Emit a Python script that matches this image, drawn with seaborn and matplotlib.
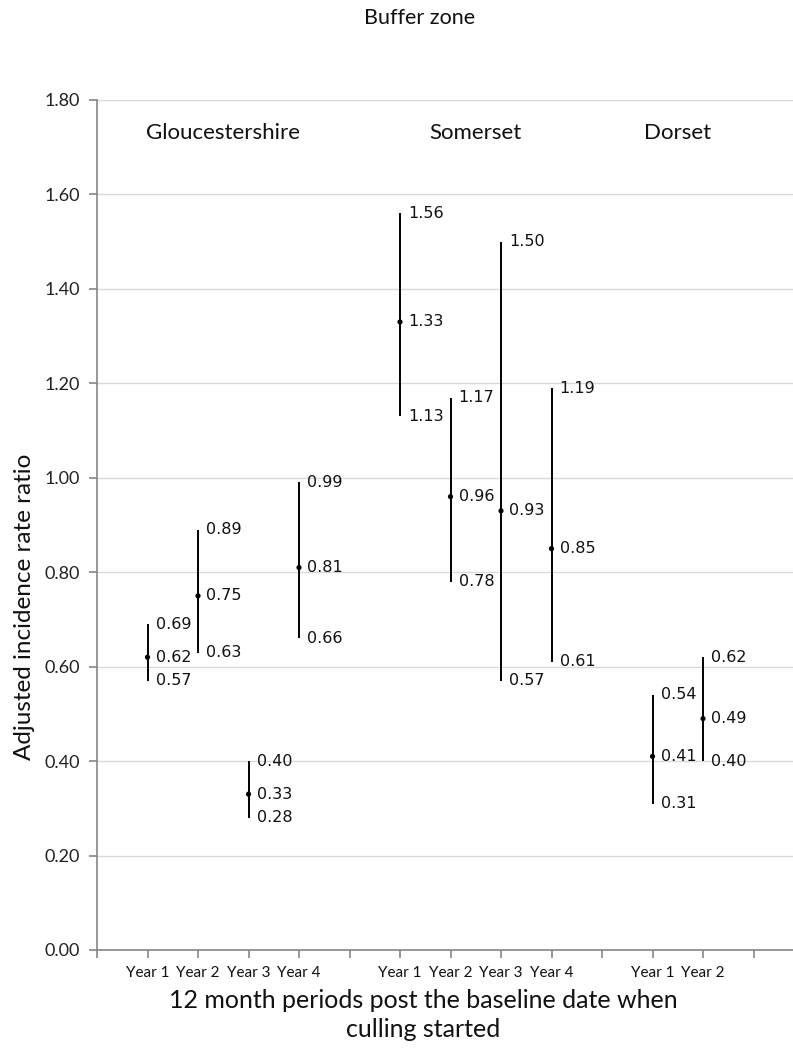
import pandas as pd
import matplotlib.pyplot as plt
import seaborn as sns

# ---------------------------
# Data
# ---------------------------
regions = ["Gloucestershire", "Somerset", "Dorset"]
glos_years = ["Year 1", "Year 2", "Year 3", "Year 4"]
som_years = ["Year 1", "Year 2", "Year 3", "Year 4"]
dor_years = ["Year 1", "Year 2"]

glos_irr = [0.62, 0.75, 0.33, 0.81]
glos_low = [0.57, 0.63, 0.28, 0.66]
glos_high = [0.69, 0.89, 0.40, 0.99]

som_irr = [1.33, 0.96, 0.93, 0.85]
som_low = [1.13, 0.78, 0.57, 0.61]
som_high = [1.56, 1.17, 1.50, 1.19]

dor_irr = [0.41, 0.49]
dor_low = [0.31, 0.40]
dor_high = [0.54, 0.62]

y_ticks = [0.0, 0.2, 0.4, 0.6, 0.8, 1.0, 1.2, 1.4, 1.6, 1.8]

# build one table, with an empty slot between regions
rows = []
start = 1
for reg, yrs, est, lo, hi in zip(regions,
                                 [glos_years, som_years, dor_years],
                                 [glos_irr, som_irr, dor_irr],
                                 [glos_low, som_low, dor_low],
                                 [glos_high, som_high, dor_high]):
    for i, yr in enumerate(yrs):
        rows.append({"region": reg, "year": yr, "pos": start + i,
                     "irr": est[i], "low": lo[i], "high": hi[i]})
    start += len(yrs) + 1
df = pd.DataFrame(rows)

# ---------------------------
# Plot
# ---------------------------
sns.set_style("white")
fig = plt.figure(figsize=(7.93, 10.49), dpi=100)
ax = fig.add_axes([97 / 793, 1 - 950 / 1049, 707 / 793, 850 / 1049])

ax.vlines(df["pos"], df["low"], df["high"], color="black", lw=1.4, zorder=3)
sns.scatterplot(data=df, x="pos", y="irr", color="black", s=14,
                edgecolor="none", zorder=4, ax=ax)

lab_kw = dict(fontsize=11.5, family="DejaVu Sans", va="center", ha="left",
              color="#111111")
for _, r in df.iterrows():
    ax.text(r["pos"] + 0.16, r["high"], f"{r['high']:.2f}", **lab_kw)
    ax.text(r["pos"] + 0.16, r["irr"], f"{r['irr']:.2f}", **lab_kw)
    ax.text(r["pos"] + 0.16, r["low"], f"{r['low']:.2f}", **lab_kw)

# region names over each group
for reg in regions:
    sub = df[df["region"] == reg]
    ax.text(sub["pos"].mean(), 1.73, reg, ha="center", va="center",
            fontsize=16, family="Lato", color="#111111")

ax.set_xlim(0, 14)
ax.set_ylim(0, 1.8)
ax.set_xticks(range(0, 14))
ax.set_xticklabels([])
for _, r in df.iterrows():
    ax.text(r["pos"], -0.048, r["year"], ha="center", va="center",
            fontsize=11, family="Lato", color="#111111")

ax.set_yticks(y_ticks)
ax.set_yticklabels([f"{v:.2f}" for v in y_ticks], fontsize=13,
                   family="Lato", color="#222222")
ax.yaxis.grid(True, color="#d9d9d9", lw=1)
ax.set_axisbelow(True)

for side in ["top", "right"]:
    ax.spines[side].set_visible(False)
for side in ["left", "bottom"]:
    ax.spines[side].set_color("#868686")
    ax.spines[side].set_linewidth(1.2)
ax.tick_params(axis="both", direction="out", length=6, width=1.2,
               color="#868686", bottom=True, left=True)
ax.tick_params(axis="y", pad=6)

ax.set_xlabel("")
ax.set_ylabel("")
# y label sits lower than the axes centre in the reference
fig.text(25 / 793, 1 - 607 / 1049, "Adjusted incidence rate ratio",
         rotation=90, ha="center", va="center", fontsize=17.5,
         family="Lato", color="#111111")

fig.text(420 / 793, 1 - 18 / 1049, "Buffer zone", ha="center", va="center",
         fontsize=15.5, family="Lato", color="#111111")
fig.text(423 / 793, 1 - 1015 / 1049,
         "12 month periods post the baseline date when\nculling started",
         ha="center", va="center", fontsize=18, family="Lato",
         color="#111111", linespacing=1.3)

plt.savefig("out.png", dpi=100)
plt.close()
